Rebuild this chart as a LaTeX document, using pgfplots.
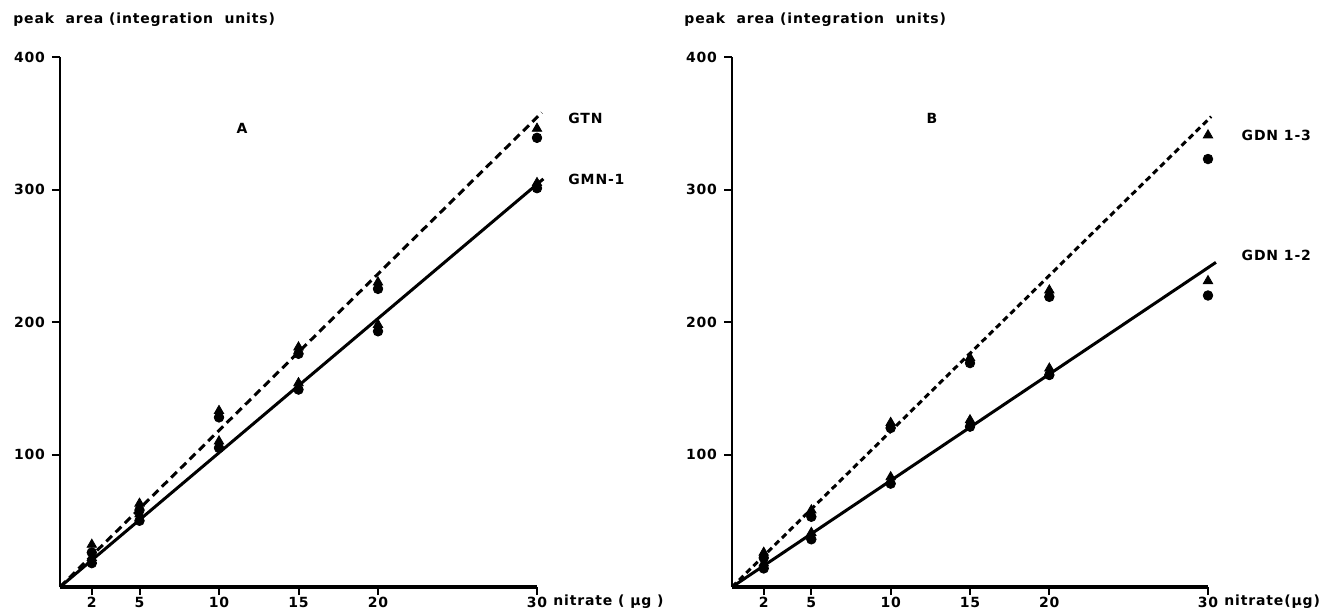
\documentclass[border=0pt]{standalone}
\usepackage{pgfplots}
\pgfplotsset{compat=1.18}
\usepackage{fontspec}
\setmainfont{DejaVu Sans}
\newfontfamily\pf{DejaVu Sans}[LetterSpace=6]
\newcommand{\lf}{\pf\bfseries\fontsize{7}{8}\selectfont}
\pgfplotsset{
  panel/.style={
    scale only axis, width=238.5pt, height=265pt,
    xmin=0, xmax=30, ymin=0, ymax=400,
    axis x line*=bottom, axis y line*=left,
    x axis line style={line width=1.6pt, black},
    y axis line style={line width=1.2pt, black},
    xtick={2,5,10,15,20,30}, ytick={100,200,300,400},
    tick align=outside, major tick length=4pt,
    tick style={line width=1pt, black},
    ticklabel style={font=\lf},
    xticklabel style={yshift=2.5pt},
    /pgf/number format/assume math mode=true,
    clip=false,
  },
  tri/.style={only marks, mark=triangle*, mark size=2.7pt, black},
  cir/.style={only marks, mark=*, mark size=2.4pt, black},
}
\begin{document}
\begin{tikzpicture}
\useasboundingbox (0pt,0pt) rectangle (667.5pt,306pt);
% ---------- Panel A ----------
\begin{axis}[panel, at={(30pt,12.5pt)}, anchor=south west]
\addplot[black, line width=1.5pt, dash pattern=on 4pt off 2.5pt] coordinates {(0,0) (30.3,358)};
\addplot[black, line width=1.5pt] coordinates {(0,0) (30.4,308)};
\addplot[tri] coordinates {(2,32) (5,63) (10,133) (15,181) (20,230) (30,346)};
\addplot[cir] coordinates {(2,26) (5,58) (10,128) (15,176) (20,225) (30,339)};
\addplot[tri] coordinates {(2,22) (5,55) (10,110) (15,154) (20,198) (30,305)};
\addplot[cir] coordinates {(2,18) (5,50) (10,105) (15,149) (20,193) (30,301)};
\node[font=\lf] at (axis cs:11.45,346) {A};
\node[font=\lf, anchor=west, inner sep=0] at (axis cs:31.95,354) {GTN};
\node[font=\lf, anchor=west, inner sep=0] at (axis cs:31.95,308) {GMN-1};
\node[font=\lf, anchor=west, inner sep=0] at (axis cs:30,0) [xshift=8pt, yshift=-7.5pt] {nitrate ( µg )};
\end{axis}
\node[font=\lf, anchor=west, inner sep=0] at (6.5pt,296pt) {peak\ \ area (integration\ \ units)};
% ---------- Panel B ----------
\begin{axis}[panel, at={(366pt,12.5pt)}, anchor=south west, width=238pt]
\addplot[black, line width=1.5pt, dash pattern=on 3pt off 2pt] coordinates {(0,0) (30.2,355)};
\addplot[black, line width=1.5pt] coordinates {(0,0) (30.5,245)};
\addplot[tri] coordinates {(2,26) (5,58) (10,124) (15,173) (20,224) (30,341)};
\addplot[cir] coordinates {(2,22) (5,53) (10,120) (15,169) (20,219) (30,323)};
\addplot[tri] coordinates {(2,18) (5,41) (10,83) (15,126) (20,165) (30,231)};
\addplot[cir] coordinates {(2,14) (5,36) (10,78) (15,121) (20,160) (30,220)};
\node[font=\lf] at (axis cs:12.6,354) {B};
\node[font=\lf, anchor=west, inner sep=0] at (axis cs:32.1,341) {GDN 1-3};
\node[font=\lf, anchor=west, inner sep=0] at (axis cs:32.1,250) {GDN 1-2};
\node[font=\lf, anchor=west, inner sep=0] at (axis cs:30,0) [xshift=8pt, yshift=-7.5pt] {nitrate(µg)};
\end{axis}
\node[font=\lf, anchor=west, inner sep=0] at (342pt,296pt) {peak\ \ area (integration\ \ units)};
\end{tikzpicture}
\end{document}
